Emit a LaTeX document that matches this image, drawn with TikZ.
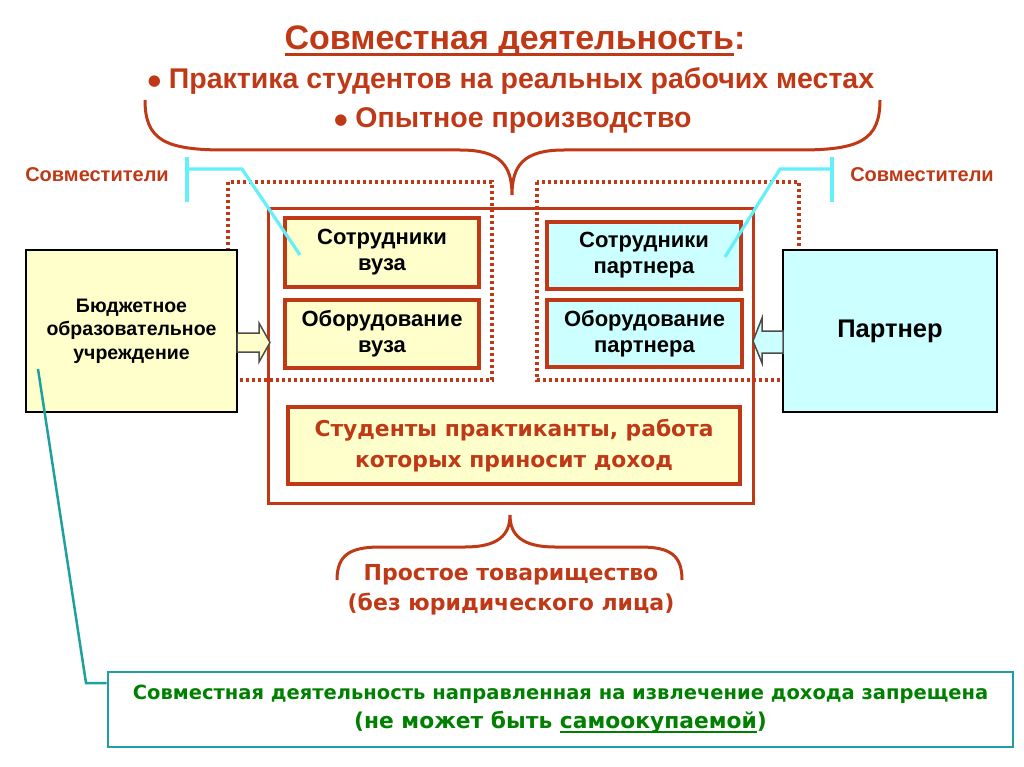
\documentclass[tikz,border=0pt]{standalone}
\usepackage{fontspec}
\setmainfont{Liberation Sans}
\newfontfamily\verdfont{DejaVu Sans}
\newcommand{\ulbar}[3]{\setbox0\hbox{#3}\rlap{\rule[-#2]{\wd0}{#1}}\box0}
\newcommand{\dotmark}{{\verdfont\fontsize{15}{15}\selectfont\raisebox{3pt}{●}}}
\definecolor{rbrown}{RGB}{192,57,22}
\definecolor{lyellow}{RGB}{255,255,204}
\definecolor{lcyan}{RGB}{204,255,255}
\definecolor{cyanln}{RGB}{100,240,250}
\definecolor{tealln}{RGB}{30,160,160}
\definecolor{dgreen}{RGB}{0,128,0}
\begin{document}
\begin{tikzpicture}[x=1pt,y=-1pt]
 \tikzset{inbox/.style={draw=rbrown, line width=3.2pt, align=center, font=\fontsize{22}{26}\selectfont\bfseries},
          sidebox/.style={draw=black, line width=2.8pt, align=center},
          brace/.style={draw=rbrown, line width=3pt},
          dotbox/.style={draw=rbrown, line width=3.2pt, dash pattern=on 3pt off 3pt},
          cyanline/.style={draw=cyanln, line width=3.2pt}}
  \useasboundingbox[fill=white] (0,0) rectangle (1024,767);
  % title
  \node[anchor=base, text=rbrown, font=\fontsize{34}{38}\selectfont\bfseries] (T1) at (515,50)
    {\ulbar{3pt}{6pt}{Совместная деятельность}:};
  \node[anchor=base, text=rbrown, font=\fontsize{28.5}{32}\selectfont\bfseries] (T2) at (511,89)
    {\dotmark\ Практика студентов на реальных рабочих местах};
  \node[anchor=base, text=rbrown, font=\fontsize{28.5}{32}\selectfont\bfseries] (T3) at (513,128)
    {\dotmark\ Опытное производство};
  \draw[brace] (145,100) .. controls (145,140) and (165,150) .. (225,150) -- (460,150)
    .. controls (500,150) and (512,165) .. (512,195) .. controls (512,165) and (524,150) .. (564,150)
    -- (800,150) .. controls (860,150) and (880,140) .. (880,100);
  % joint activity
  \node[draw=rbrown, line width=3.8pt, minimum width=485, minimum height=295] (J) at (511,356) {};
  \draw[dotbox] (228,182) rectangle (492,380);
  \draw[dotbox] (537,182) rectangle (799,380);
  \node[inbox, fill=lyellow, minimum width=194, minimum height=69] (S1) at (382,252.5) {Сотрудники\\вуза};
  \node[inbox, fill=lyellow, minimum width=194, minimum height=68] (O1) at (382,334) {Оборудование\\вуза};
  \node[inbox, fill=lcyan, minimum width=194, minimum height=67] (S2) at (644,255.5) {Сотрудники\\партнера};
  \node[inbox, fill=lcyan, minimum width=195, minimum height=67] (O2) at (644.5,333.5) {Оборудование\\партнера};
  \node[inbox, line width=3.8pt, fill=lyellow, minimum width=452, minimum height=77, text=rbrown,
        font=\fontsize{21.8}{31}\selectfont\bfseries\verdfont] (ST) at (514,445.5)
    {Студенты практиканты, работа\\которых приносит доход};
  % sides
  \node[sidebox, fill=lyellow, minimum width=211, minimum height=162,
        font=\fontsize{19.5}{23.5}\selectfont\bfseries] (B1) at (131.5,331) {Бюджетное\\образовательное\\учреждение};
  \node[sidebox, fill=lcyan, minimum width=214, minimum height=162,
        font=\fontsize{25.5}{28}\selectfont\bfseries] (P1) at (890,331) {Партнер};
  \draw[fill=lyellow, draw=black!70, line width=1.5pt] (237,333) -- (259,333) -- (259,323) -- (270,342.5)
    -- (259,362) -- (259,352) -- (237,352) -- cycle;
  \draw[fill=lcyan, draw=black!70, line width=1.5pt] (783,331) -- (762,331) -- (762,318) -- (753,341)
    -- (762,363) -- (762,353) -- (783,353) -- cycle;
  % part-timers
  \node[text=rbrown, font=\fontsize{20}{24}\selectfont\bfseries] (C1) at (97,175) {Совместители};
  \node[text=rbrown, font=\fontsize{20}{24}\selectfont\bfseries] (C2) at (922,175) {Совместители};
  \draw[cyanline] (187,157) -- (187,202);
  \draw[cyanline] (187,169) -- (242,169) -- (300,255);
  \draw[cyanline] (832,157) -- (832,202);
  \draw[cyanline] (832,169) -- (780,169) -- (725,257);
  % partnership
  \draw[brace] (337,580) .. controls (337,555) and (350,547) .. (380,547) -- (465,547)
    .. controls (498,547) and (510,535) .. (510,515) .. controls (510,535) and (522,547) .. (555,547)
    -- (640,547) .. controls (670,547) and (682,555) .. (682,580);
  \node[text=rbrown, align=center, font=\fontsize{22}{30}\selectfont\bfseries\verdfont] (PT) at (511,590)
    {Простое товарищество\\(без юридического лица)};
  % note
  \node[draw=tealln, line width=2.8pt, minimum width=905, minimum height=75, align=center, text=dgreen,
        font=\fontsize{19.5}{29}\selectfont\bfseries\verdfont] (G) at (560.5,709.5)
    {Совместная деятельность направленная на извлечение дохода запрещена\\
     {\fontsize{21.8}{29}\selectfont(не может быть \ulbar{2pt}{4pt}{самоокупаемой})}};
  \coordinate (g1) at (38,369);
  \draw[tealln, line width=2.5pt] (g1) -- (86,683) -- (G.west |- 0,683);
\end{tikzpicture}
\end{document}
